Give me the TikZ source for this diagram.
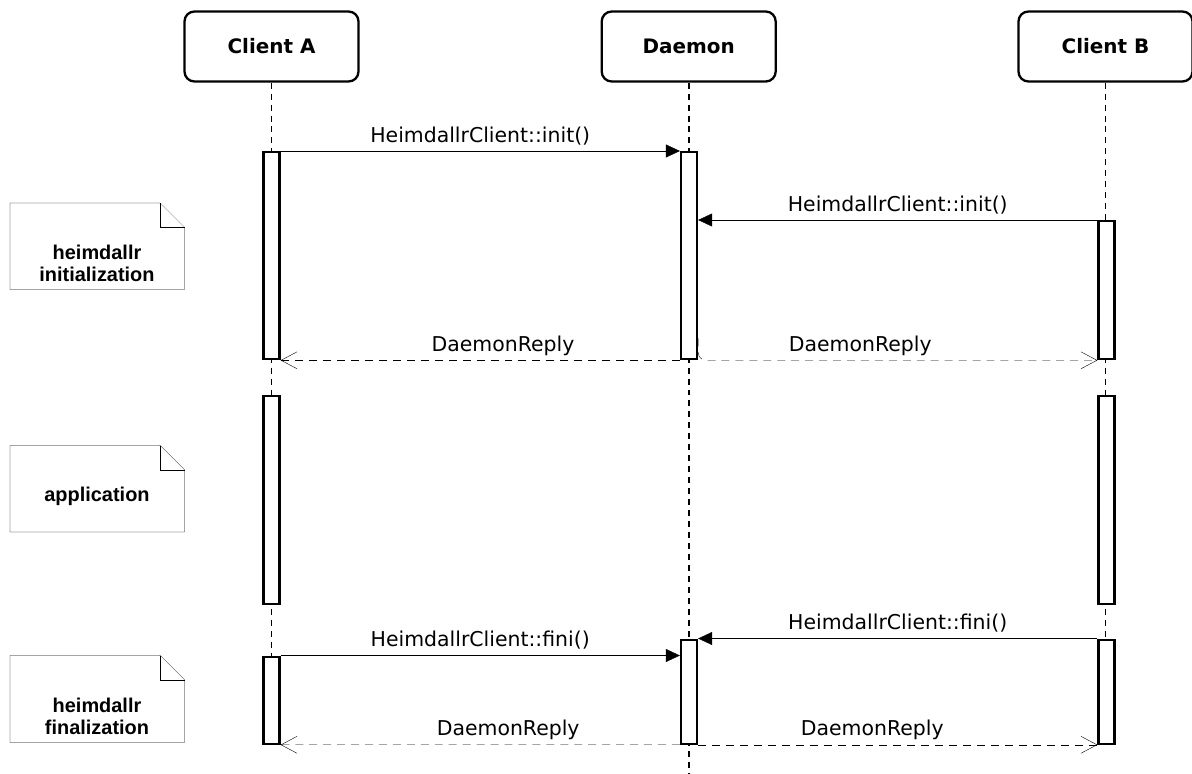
\documentclass[tikz,border=0pt]{standalone}
\usepackage{fontspec}
\setmainfont{DejaVu Sans}
\newfontfamily\notefont{Liberation Sans}
\usetikzlibrary{arrows.meta,calc,backgrounds}

\begin{document}
\begin{tikzpicture}[x=1bp,y=-1bp,line width=2.3pt,
  actor/.style={draw,rounded corners=10pt,minimum width=174bp,minimum height=70bp,
    inner sep=0pt,font=\fontsize{20}{24}\selectfont\bfseries},
  lifeline/.style={dash pattern=on 6pt off 5pt,line width=1.9pt},
  bar/.style={draw,fill=white,minimum width=16bp,inner sep=0pt,anchor=north},
  msg/.style={-{Triangle[length=14pt,width=13pt]}},
  reply/.style={dash pattern=on 8pt off 6pt,-{Straight Barb[length=16pt,width=17pt]}},
  lbl/.style={font=\fontsize{20.5}{24}\selectfont,anchor=base,yshift=9pt,inner sep=0pt},
  notebody/.style={draw,fill=white,line join=miter},
  notetext/.style={font=\notefont\fontsize{20}{22}\selectfont\bfseries,align=center,inner sep=0pt}
]
\useasboundingbox (0,0) rectangle (1192,774);

% participants
\node[actor] (ca) at (271.5,46.5) {Client A};
\node[actor] (dm) at (688.7,46.5) {Daemon};
\node[actor] (cb) at (1105.5,46.5) {Client B};

% activation bars
\node[bar,minimum height=207bp] (a1) at (271.5,151) {};
\node[bar,minimum height=207bp] (d1) at (689,151) {};
\node[bar,minimum height=138bp] (b1) at (1106.5,220) {};
\node[bar,minimum height=208bp] (a2) at (271.5,395) {};
\node[bar,minimum height=208bp] (b2) at (1106.5,395) {};
\node[bar,minimum height=104bp] (d2) at (689,638.5) {};
\node[bar,minimum height=87bp]  (a3) at (271.5,655.5) {};
\node[bar,minimum height=104bp] (b3) at (1106.5,638.5) {};
\coordinate (dend) at (689,774);

% lifelines behind the bars
\begin{pgfonlayer}{background}
  \draw[lifeline] (ca.south) -- (ca.south |- a3.south);
  \draw[lifeline] (dm.south) -- (dm.south |- dend);
  \draw[lifeline] (cb.south) -- (cb.south |- b3.south);
\end{pgfonlayer}

% initialization messages
\draw[msg] (a1.north east) -- (d1.north west)
  node[lbl,midway] {HeimdallrClient::init()};
\draw[msg] (b1.north west) -- (b1.north west -| d1.east)
  node[lbl,midway] {HeimdallrClient::init()};
\draw[reply] (d1.south west) -- (a1.south east)
  node[lbl,pos=0.443] {DaemonReply};
\draw[reply,rounded corners=8pt] ($(d1.south east)+(0,-22)$) -- (d1.south east) -- (b1.south west)
  node[lbl,pos=0.406] {DaemonReply};

% finalization messages
\draw[msg] (b3.north west) -- (d2.north east)
  node[lbl,midway] {HeimdallrClient::fini()};
\draw[msg] (a3.north east) -- (a3.north east -| d2.west)
  node[lbl,midway] {HeimdallrClient::fini()};
\draw[reply] (d2.south west) -- (a3.south east)
  node[lbl,pos=0.43] {DaemonReply};
\draw[reply] (d2.south east) -- (b3.south west)
  node[lbl,pos=0.436] {DaemonReply};

% phase notes
\draw[notebody] (10,203) -- (160,203) -- (184.5,227.5) -- (184.5,289.5) -- (10,289.5) -- cycle;
\draw[notebody] (160,203) -- (160,227.5) -- (184.5,227.5);
\node[notetext] (n1) at (97,263) {heimdallr\\initialization};

\draw[notebody] (10,445.5) -- (160,445.5) -- (184.5,470) -- (184.5,532) -- (10,532) -- cycle;
\draw[notebody] (160,445.5) -- (160,470) -- (184.5,470);
\node[notetext,anchor=base] (n2) at (97,501) {application};

\draw[notebody] (10,655.5) -- (160,655.5) -- (184.5,680) -- (184.5,742.5) -- (10,742.5) -- cycle;
\draw[notebody] (160,655.5) -- (160,680) -- (184.5,680);
\node[notetext] (n3) at (97,716) {heimdallr\\finalization};
\end{tikzpicture}
\end{document}
